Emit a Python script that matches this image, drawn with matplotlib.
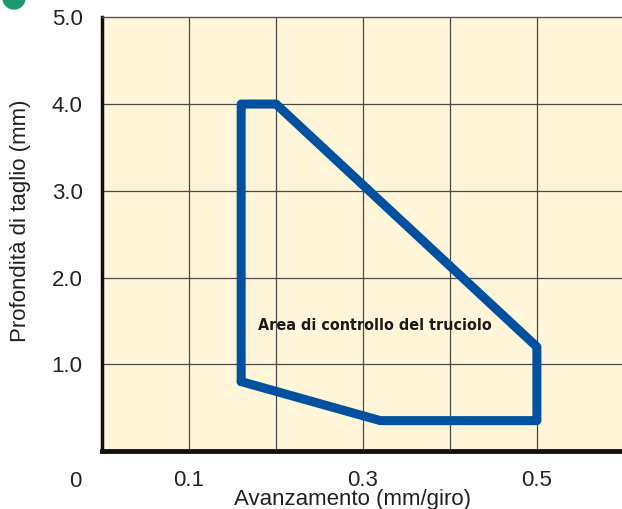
import matplotlib
matplotlib.use('Agg')
import matplotlib.pyplot as plt
from matplotlib.patches import Circle
from matplotlib import font_manager

plt.rcParams['font.family'] = ['Liberation Sans', 'DejaVu Sans']

# polygon of the chip control area (feed mm/rev, depth mm)
area_feed = [0.16, 0.16, 0.20, 0.50, 0.50, 0.32, 0.16]
area_depth = [0.80, 4.00, 4.00, 1.20, 0.35, 0.35, 0.80]

x_ticks = [0.1, 0.3, 0.5]
x_tick_labels = ['0.1', '0.3', '0.5']
y_ticks = [1.0, 2.0, 3.0, 4.0, 5.0]
y_tick_labels = ['1.0', '2.0', '3.0', '4.0', '5.0']
x_grid = [0.1, 0.2, 0.3, 0.4, 0.5]
y_grid = [1.0, 2.0, 3.0, 4.0]

fig = plt.figure(figsize=(6.22, 5.09), dpi=100)
ax = fig.add_axes([0.164, 0.114, 0.839, 0.852])
ax.set_facecolor('#fff5d9')
ax.set_xlim(0, 0.6)
ax.set_ylim(0, 5.0)

for gx in x_grid:
    ax.axvline(gx, color='#4a4a4a', lw=0.9, zorder=1)
for gy in y_grid:
    ax.axhline(gy, color='#4a4a4a', lw=0.9, zorder=1)

ax.plot(area_feed, area_depth, color='#0052a0', lw=6.5,
        solid_joinstyle='round', solid_capstyle='round', zorder=3)

# condensed bold label, pick DejaVu Sans Condensed if it is there
cond = [f.fname for f in font_manager.fontManager.ttflist
        if 'DejaVuSansCondensed-Bold' in f.fname]
if cond:
    lab_font = font_manager.FontProperties(fname=cond[0], size=11.5)
else:
    lab_font = font_manager.FontProperties(family='DejaVu Sans', weight='bold', size=10.5)
ax.text(0.179, 1.45, 'Area di controllo del truciolo', fontproperties=lab_font,
        color='#1a1a1a', va='center', ha='left', zorder=4)

ax.set_xticks(x_ticks)
ax.set_xticklabels(x_tick_labels, fontsize=16, color='#222222')
ax.set_yticks(y_ticks)
ax.set_yticklabels(y_tick_labels, fontsize=16, color='#222222')
ax.tick_params(axis='x', length=0, pad=14)
ax.tick_params(axis='y', length=0, pad=14)

ax.text(-0.031, -0.35, '0', fontsize=16, color='#222222',
        ha='center', va='center', transform=ax.transData, clip_on=False)

ax.set_xlabel('Avanzamento (mm/giro)', fontsize=16, color='#222222', va='center')
ax.xaxis.set_label_coords(0.48, -0.113)
ax.set_ylabel('Profondità di taglio (mm)', fontsize=16, color='#222222', va='center')
ax.yaxis.set_label_coords(-0.157, 0.53)

ax.spines['right'].set_visible(False)
ax.spines['top'].set_color('#555555')
ax.spines['top'].set_linewidth(1.0)
ax.spines['left'].set_linewidth(2.5)
ax.spines['left'].set_color('#111111')
ax.spines['bottom'].set_linewidth(3.5)
ax.spines['bottom'].set_color('#111111')

# green bullet of the (cropped) heading
fig.patches.append(Circle((14, 511), 11, transform=None, color='#1a9a6c'))

fig.savefig('out.png', dpi=100)
